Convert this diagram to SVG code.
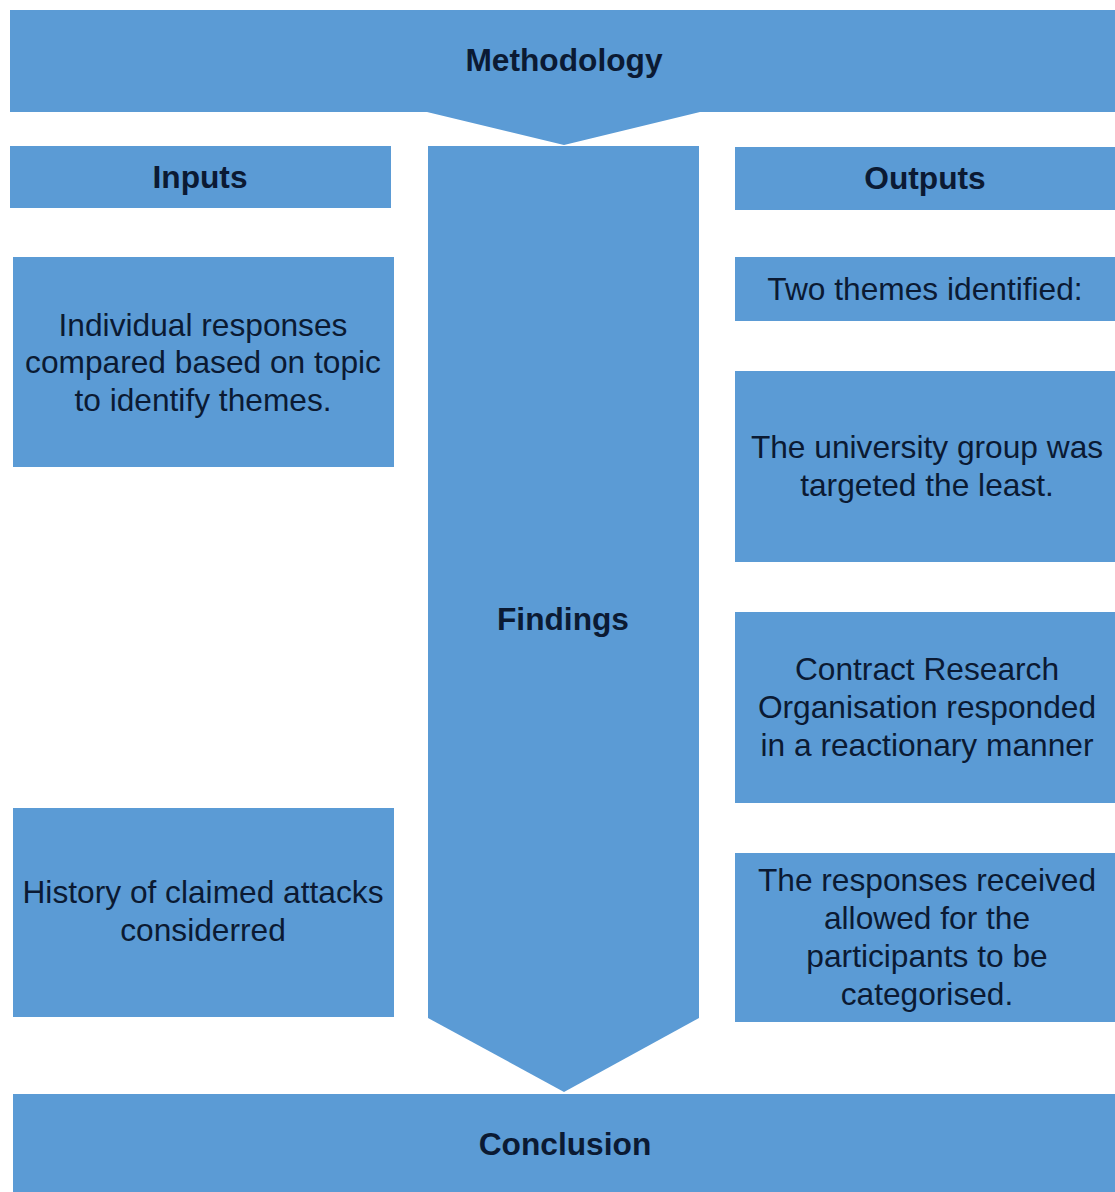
<svg xmlns="http://www.w3.org/2000/svg" width="1115" height="1192" viewBox="0 0 1115 1192">
  <style>
    .box { fill: #5b9bd5; }
    .title { font-family: "Liberation Sans", Arial, sans-serif; font-size: 31.7px; font-weight: bold; fill: #0b1a33; text-anchor: middle; }
    .body { font-family: "Liberation Sans", Arial, sans-serif; font-size: 31.7px; fill: #0b1a33; text-anchor: middle; }
  </style>
  <rect width="1115" height="1192" fill="#ffffff"/>

  <!-- Methodology banner with downward notch -->
  <g id="methodology">
    <polygon class="box" points="10,10 1115,10 1115,112 700,112 564,145 427,112 10,112"/>
    <text class="title" x="564" y="71">Methodology</text>
  </g>

  <!-- Left column -->
  <g id="inputs">
    <rect class="box" x="10" y="146" width="381" height="62"/>
    <text class="title" x="200" y="188">Inputs</text>
  </g>
  <g id="input-responses">
    <rect class="box" x="13" y="257" width="381" height="210"/>
    <text class="body" x="203" y="336">Individual responses</text>
    <text class="body" x="203" y="373">compared based on topic</text>
    <text class="body" x="203" y="411">to identify themes.</text>
  </g>
  <g id="input-history">
    <rect class="box" x="13" y="808" width="381" height="209"/>
    <text class="body" x="203" y="903">History of claimed attacks</text>
    <text class="body" x="203" y="941">considerred</text>
  </g>

  <!-- Central findings arrow -->
  <g id="findings">
    <polygon class="box" points="428,146 699,146 699,1018 564,1092 428,1018"/>
    <text class="title" x="563" y="630">Findings</text>
  </g>

  <!-- Right column -->
  <g id="outputs">
    <rect class="box" x="735" y="147" width="380" height="63"/>
    <text class="title" x="925" y="189">Outputs</text>
  </g>
  <g id="output-themes">
    <rect class="box" x="735" y="257" width="380" height="64"/>
    <text class="body" x="925" y="300">Two themes identified:</text>
  </g>
  <g id="output-university">
    <rect class="box" x="735" y="371" width="380" height="191"/>
    <text class="body" x="927" y="458">The university group was</text>
    <text class="body" x="927" y="496">targeted the least.</text>
  </g>
  <g id="output-cro">
    <rect class="box" x="735" y="612" width="380" height="191"/>
    <text class="body" x="927" y="680">Contract Research</text>
    <text class="body" x="927" y="718">Organisation responded</text>
    <text class="body" x="927" y="756">in a reactionary manner</text>
  </g>
  <g id="output-categorised">
    <rect class="box" x="735" y="853" width="380" height="169"/>
    <text class="body" x="927" y="891">The responses received</text>
    <text class="body" x="927" y="929">allowed for the</text>
    <text class="body" x="927" y="967">participants to be</text>
    <text class="body" x="927" y="1005">categorised.</text>
  </g>

  <!-- Conclusion banner -->
  <g id="conclusion">
    <rect class="box" x="13" y="1094" width="1102" height="98"/>
    <text class="title" x="565" y="1155">Conclusion</text>
  </g>
</svg>
